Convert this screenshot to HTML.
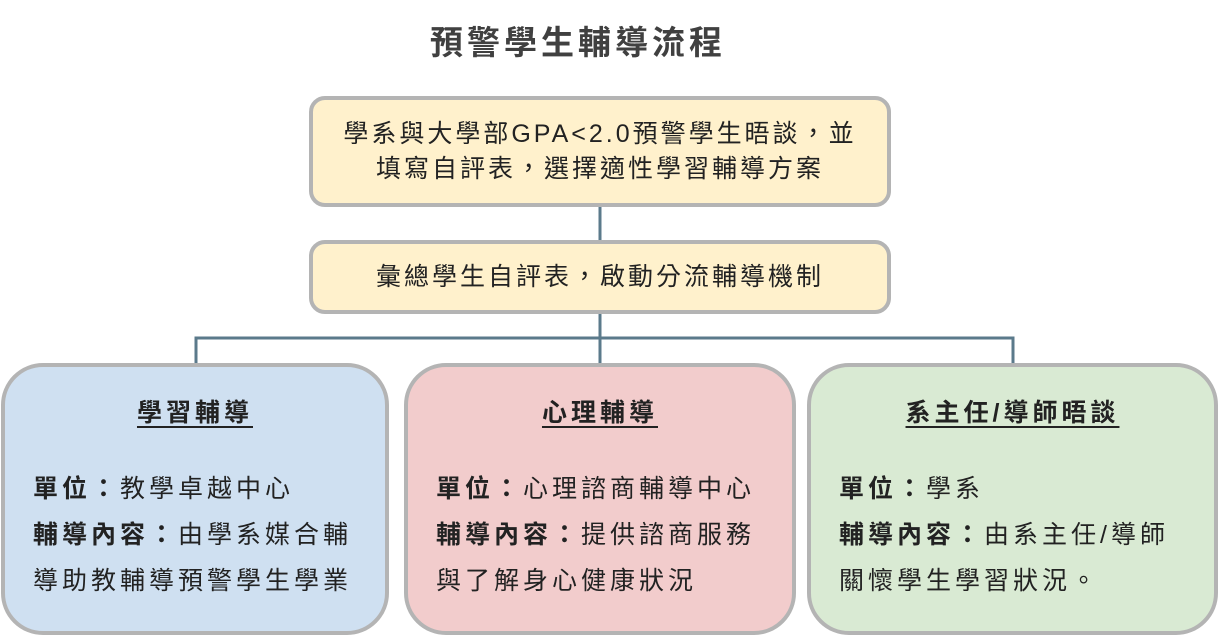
<!DOCTYPE html>
<html><head><meta charset="utf-8"><style>
body{margin:0;width:1219px;height:636px;background:#fff;position:relative;overflow:hidden;font-family:"Liberation Sans","Noto Sans CJK TC",sans-serif;}
.b{position:absolute;box-sizing:border-box;border:4px solid #b4b4b4;}
.y{background:#fff1cc;border-radius:16px;text-align:center;color:#222;font-size:25px;letter-spacing:3px;}
.c{border-radius:42px;color:#222;font-size:25px;letter-spacing:4px;}
.h{position:absolute;left:0;right:0;top:26px;text-align:center;font-weight:bold;text-decoration:underline;text-underline-offset:5px;}
.l{position:absolute;left:28px;white-space:nowrap;}
b{font-weight:bold}
</style></head><body>
<div style="position:absolute;left:430px;top:16px;white-space:nowrap;font-size:33px;font-weight:bold;color:#404040;letter-spacing:4px;">預警學生輔導流程</div>
<svg width="1219" height="636" style="position:absolute;left:0;top:0">
<g stroke="#5b7a8b" stroke-width="3" fill="none">
<path d="M600 205V243M600 311V364M196 364V338H1013V364"/>
</g></svg>
<div class="b y" style="left:309px;top:96px;width:582px;height:111px;padding-top:17px;line-height:35px;">學系與大學部GPA&lt;2.0預警學生晤談，並<br>填寫自評表，選擇適性學習輔導方案</div>
<div class="b y" style="left:309px;top:240px;width:582px;height:74px;line-height:66px;">彙總學生自評表，啟動分流輔導機制</div>
<div class="b c" style="left:1px;top:363px;width:388px;height:272px;background:#cfe0f1;">
<div class="h">學習輔導</div>
<div class="l" style="top:102px"><b>單位：</b>教學卓越中心</div>
<div class="l" style="top:148px"><b>輔導內容：</b>由學系媒合輔</div>
<div class="l" style="top:194px">導助教輔導預警學生學業</div>
</div>
<div class="b c" style="left:404px;top:363px;width:392px;height:272px;background:#f2cccc;">
<div class="h">心理輔導</div>
<div class="l" style="top:102px"><b>單位：</b>心理諮商輔導中心</div>
<div class="l" style="top:148px"><b>輔導內容：</b>提供諮商服務</div>
<div class="l" style="top:194px">與了解身心健康狀況</div>
</div>
<div class="b c" style="left:807px;top:363px;width:411px;height:272px;background:#d9ead3;">
<div class="h">系主任/導師晤談</div>
<div class="l" style="top:102px"><b>單位：</b>學系</div>
<div class="l" style="top:148px"><b>輔導內容：</b>由系主任/導師</div>
<div class="l" style="top:194px">關懷學生學習狀況。</div>
</div>
</body></html>
